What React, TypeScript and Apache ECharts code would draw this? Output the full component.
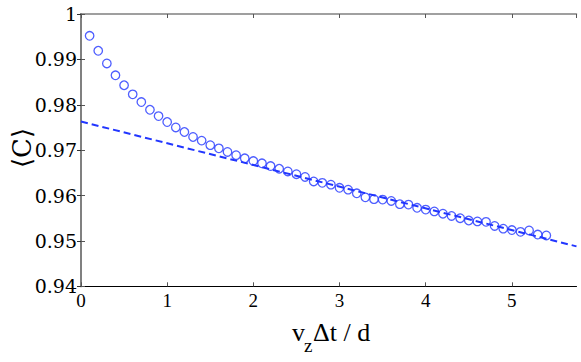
import React, { useEffect, useRef } from "react";
import * as echarts from "echarts";

const xValues = [
  0.1, 0.2, 0.3, 0.4, 0.5, 0.6, 0.7, 0.8, 0.9, 1.0,
  1.1, 1.2, 1.3, 1.4, 1.5, 1.6, 1.7, 1.8, 1.9, 2.0,
  2.1, 2.2, 2.3, 2.4, 2.5, 2.6, 2.7, 2.8, 2.9, 3.0,
  3.1, 3.2, 3.3, 3.4, 3.5, 3.6, 3.7, 3.8, 3.9, 4.0,
  4.1, 4.2, 4.3, 4.4, 4.5, 4.6, 4.7, 4.8, 4.9, 5.0,
  5.1, 5.2, 5.3, 5.4,
];
const cValues = [
  0.9952, 0.9919, 0.9891, 0.9865, 0.9843, 0.9823, 0.9806, 0.9789, 0.9775, 0.9762,
  0.975, 0.974, 0.9729, 0.9721, 0.9711, 0.9704, 0.9696, 0.9689, 0.9682, 0.9676,
  0.9671, 0.9665, 0.9659, 0.9653, 0.9647, 0.9641, 0.9631, 0.9628, 0.9624, 0.9617,
  0.9613, 0.9605, 0.9596, 0.9592, 0.9591, 0.9588, 0.9581, 0.958, 0.9573, 0.9569,
  0.9565, 0.956, 0.9555, 0.955, 0.9545, 0.9543, 0.9542, 0.9533, 0.9527, 0.9524,
  0.952, 0.9523, 0.9514, 0.9512,
];
const fitX = [0, 5.75];
const fitY = [0.9763, 0.9488];

const xTicks = [0, 1, 2, 3, 4, 5];
const yTicks = [0.94, 0.95, 0.96, 0.97, 0.98, 0.99, 1];

const BLUE = "#2236ff";
const FONT = "DejaVu Serif";
const FONT2 = "serif";

export default function App() {
  const ref = useRef<HTMLDivElement>(null);
  useEffect(() => {
    if (!ref.current) return;
    const chart = echarts.init(ref.current, null, { renderer: "svg" });
    const yFmt = (v: number) => {
      const hit = yTicks.find((t) => Math.abs(t - v) < 1e-9);
      if (hit === undefined) return "";
      return hit === 1 ? "1" : hit.toFixed(2);
    };
    const xFmt = (v: number) => {
      const hit = xTicks.find((t) => Math.abs(t - v) < 1e-9);
      return hit === undefined ? "" : String(hit);
    };
    chart.setOption({
      animation: false,
      backgroundColor: "#ffffff",
      grid: { left: 81, top: 14, right: 4.5, bottom: 75.7 },
      xAxis: [
        {
          type: "value",
          min: 0,
          max: 5.75,
          interval: 1,
          position: "bottom",
          axisLine: { show: true, lineStyle: { color: "#000", width: 1.2 } },
          axisTick: { show: true, inside: true, length: 4, lineStyle: { color: "#555" } },
          axisLabel: {
            show: true,
            formatter: xFmt,
            showMaxLabel: false,
            color: "#000",
            fontSize: 19,
            fontFamily: FONT2,
            margin: 5,
          },
          splitLine: { show: false },
        },
        {
          type: "value",
          min: 0,
          max: 5.75,
          interval: 1,
          position: "top",
          axisLine: { show: true, lineStyle: { color: "#808080", width: 1.5 } },
          axisTick: { show: true, inside: true, length: 4, lineStyle: { color: "#555" } },
          axisLabel: { show: false },
          splitLine: { show: false },
        },
      ],
      yAxis: [
        {
          type: "value",
          min: 0.94,
          max: 1,
          interval: 0.01,
          position: "left",
          axisLine: { show: true, lineStyle: { color: "#808080", width: 2 } },
          axisTick: { show: true, inside: true, length: 4, lineStyle: { color: "#555" } },
          axisLabel: {
            show: true,
            formatter: yFmt,
            color: "#000",
            fontSize: 19,
            fontFamily: FONT,
            margin: 4,
          },
          splitLine: { show: false },
        },
        {
          type: "value",
          min: 0.94,
          max: 1,
          interval: 0.01,
          position: "right",
          axisLine: { show: true, lineStyle: { color: "#808080", width: 2 } },
          axisTick: { show: true, inside: true, length: 4, lineStyle: { color: "#333" } },
          axisLabel: { show: false },
          splitLine: { show: false },
        },
      ],
      series: [
        {
          type: "line",
          data: fitX.map((x, i) => [x, fitY[i]]),
          showSymbol: false,
          symbol: "none",
          lineStyle: { color: BLUE, width: 2, type: [7, 4] },
          z: 2,
        },
        {
          type: "scatter",
          data: xValues.map((x, i) => [x, cValues[i]]),
          symbol: "circle",
          symbolSize: 8.5,
          itemStyle: { color: "rgba(0,0,0,0)", borderColor: BLUE, borderWidth: 1.3 },
          z: 3,
        },
      ],
      graphic: [
        {
          type: "text",
          left: 292,
          top: 319,
          style: { text: "v", fontSize: 26, fontFamily: "Liberation Serif", fill: "#000" },
        },
        {
          type: "text",
          left: 304,
          top: 336,
          style: { text: "z", fontSize: 19, fontFamily: "Liberation Serif", fill: "#000" },
        },
        {
          type: "text",
          left: 313,
          top: 319,
          style: { text: "Δt / d", font: "26px 'Liberation Serif'", fill: "#000" },
        },
        {
          type: "text",
          x: 22,
          y: 148,
          rotation: Math.PI / 2,
          style: {
            text: "⟨C⟩",
            fontSize: 26,
            fontFamily: FONT,
            fill: "#000",
            align: "center",
            verticalAlign: "middle",
          },
        },
      ],
    });
    return () => chart.dispose();
  }, []);
  return (
    <div
      ref={ref}
      style={{ position: "fixed", left: 0, top: 0, width: 581, height: 362 }}
    />
  );
}
